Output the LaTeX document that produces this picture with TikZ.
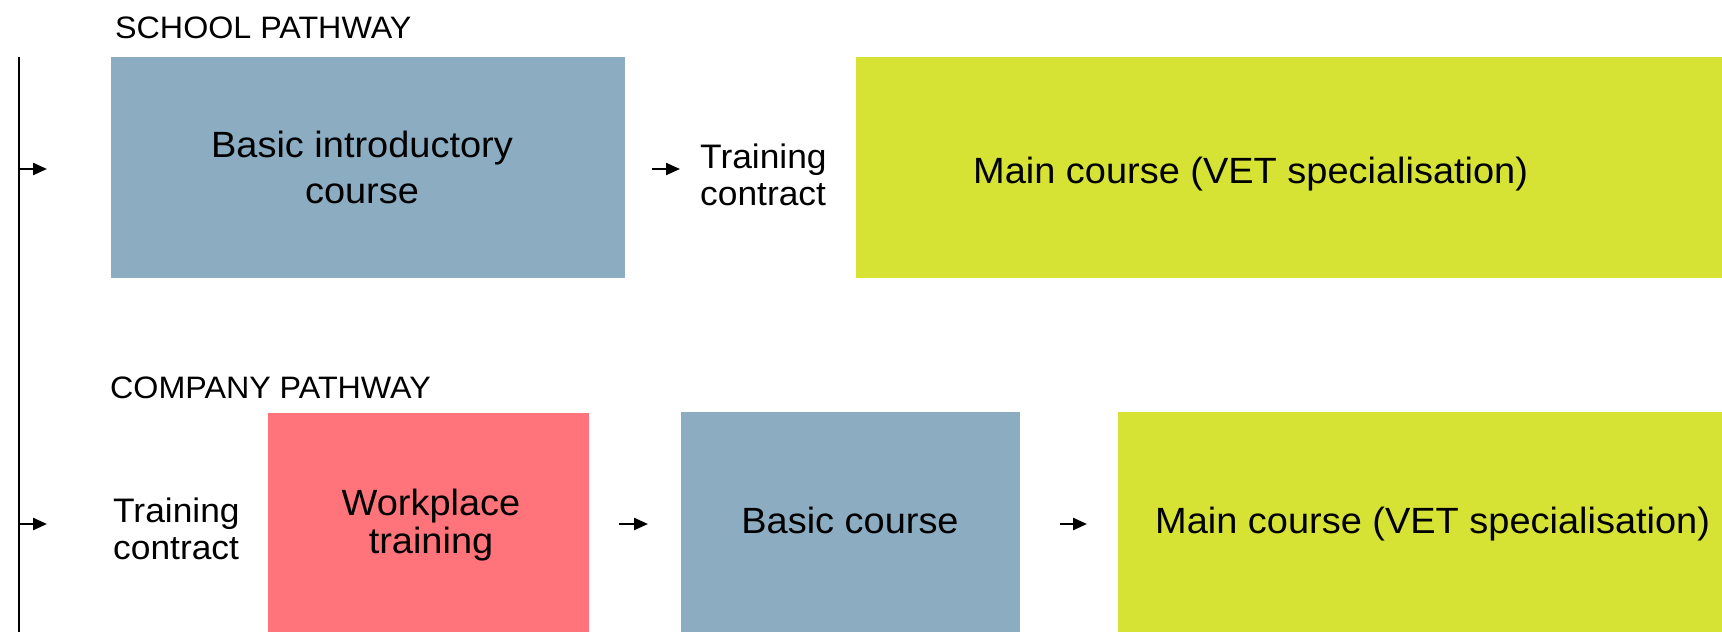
\documentclass[tikz,border=0pt]{standalone}
\usepackage{fontspec}
\setmainfont{Liberation Sans}[FakeStretch=1.04]
\usetikzlibrary{arrows.meta}
\definecolor{boxblue}{RGB}{139,172,193}
\definecolor{boxgreen}{RGB}{214,227,53}
\definecolor{boxred}{RGB}{255,116,122}
\begin{document}
\begin{tikzpicture}[x=1pt,y=-1pt,
  box/.style={draw=none, inner sep=0pt, outer sep=0pt, anchor=north west, minimum height=221pt},
  arr/.style={line width=2.3pt, -{Triangle[length=14pt,width=12pt]}},
  boxtext/.style={font=\fontsize{36.5}{46}\selectfont, inner sep=0pt, align=center, anchor=base},
  head/.style={font=\fontsize{31}{36}\selectfont, inner sep=0pt, anchor=base west},
  lbl/.style={font=\fontsize{34}{37}\selectfont, inner sep=0pt, align=left, anchor=base west},
  maintext/.style={font=\fontsize{36.5}{42}\selectfont, inner sep=0pt, anchor=base west}]
\useasboundingbox (0,0) rectangle (1722,632);

% headings
\node[head] (school) at (115,38) {SCHOOL PATHWAY};
\node[head] (company) at (110,398) {COMPANY PATHWAY};

% left bracket line
\coordinate (vtop) at (19,57);
\coordinate (vbot) at (19,632);
\draw[line width=2.3pt] (vtop) -- (vbot);

% school pathway
\node[box, fill=boxblue, minimum width=514pt] (intro) at (111,57) {};
\node[boxtext] (introtxt) at (362,203) {Basic introductory\\course};
\node[lbl] (tc1) at (700,205) {Training\\contract};
\node[box, fill=boxgreen, minimum width=866pt] (main1) at (856,57) {};
\node[maintext] (main1txt) at (973,183) {Main course (VET specialisation)};

% company pathway
\node[lbl] (tc2) at (113,559) {Training\\contract};
\node[box, fill=boxred, minimum width=321pt] (work) at (268,413) {};
\node[boxtext, font=\fontsize{36.5}{38}\selectfont] (worktxt) at (431,553) {Workplace\\training};
\node[box, fill=boxblue, minimum width=339pt] (basic) at (681,412) {};
\node[boxtext] (basictxt) at (850,533) {Basic course};
\node[box, fill=boxgreen, minimum width=604pt] (main2) at (1118,412) {};
\node[maintext] (main2txt) at (1155,533) {Main course (VET specialisation)};

% arrows
\coordinate (a0s) at (19,169);  \coordinate (a0e) at (47,169);
\coordinate (a1s) at (652,169); \coordinate (a1e) at (680,169);
\coordinate (b0s) at (19,524);  \coordinate (b0e) at (47,524);
\coordinate (b1s) at (619,524); \coordinate (b1e) at (648,524);
\coordinate (b2s) at (1060,524); \coordinate (b2e) at (1087,524);
\draw[arr] (a0s) -- (a0e);
\draw[arr] (a1s) -- (a1e);
\draw[arr] (b0s) -- (b0e);
\draw[arr] (b1s) -- (b1e);
\draw[arr] (b2s) -- (b2e);
\end{tikzpicture}
\end{document}
